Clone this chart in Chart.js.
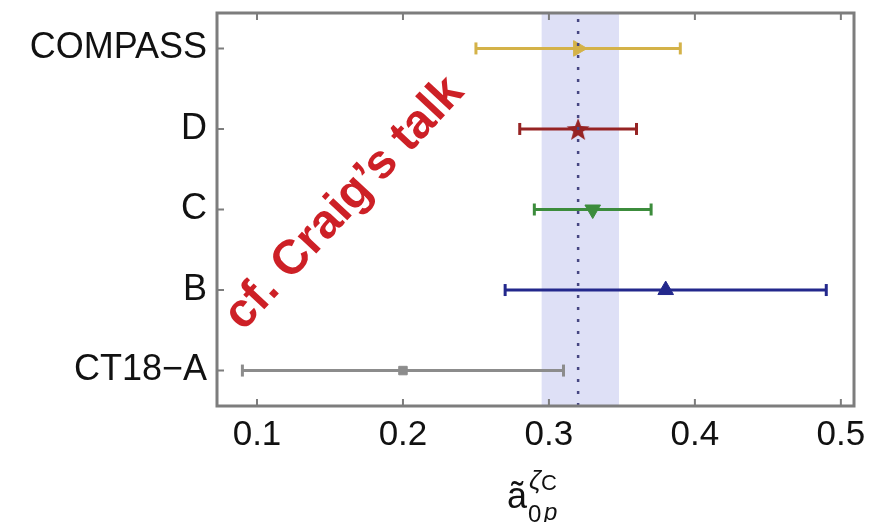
<!DOCTYPE html>
<html>
<head>
<meta charset="utf-8">
<script src="https://cdn.jsdelivr.net/npm/chart.js@4/dist/chart.umd.min.js"></script>
<style>
    html, body { margin: 0; padding: 0; background: #fff; }
    #wrap { width: 880px; height: 522px; }
</style>
</head>
<body>
<div id="wrap"><canvas id="chart" width="880" height="522"></canvas></div>
<script>
// data
var categories = ['CT18\u2212A', 'B', 'C', 'D', 'COMPASS'];
var centers = [0.20, 0.38, 0.33, 0.32, 0.32];
var lows = [0.09, 0.27, 0.29, 0.28, 0.25];
var highs = [0.31, 0.49, 0.37, 0.36, 0.39];
var xTicks = [0.1, 0.2, 0.3, 0.4, 0.5];
var refValue = 0.32;
var bandLow = 0.295;
var bandHigh = 0.348;

var colors = ['rgb(140,140,140)', 'rgb(35,40,140)', 'rgb(60,140,60)', 'rgb(150,35,35)', 'rgb(212,178,72)'];
var FONT = '"Liberation Sans", Arial, Helvetica, sans-serif';

function makeStar(color, r) {
    var c = document.createElement('canvas');
    c.width = c.height = 2 * r + 2;
    var g = c.getContext('2d');
    g.fillStyle = color;
    g.beginPath();
    for (var i = 0; i < 10; i++) {
        var rad = (i % 2 == 0) ? r : r * 0.42;
        var a = -Math.PI / 2 + i * Math.PI / 5;
        var px = r + 1 + rad * Math.cos(a);
        var py = r + 1 + rad * Math.sin(a) + r * 0.1;
        if (i == 0) g.moveTo(px, py); else g.lineTo(px, py);
    }
    g.closePath();
    g.fill();
    return c;
}

// marker per row
var markerStyle = ['rect', 'triangle', 'triangle', makeStar(colors[3], 12), 'triangle'];
var markerRot = [0, 0, 180, 0, 90];
var markerRadius = [6, 9, 9, 12, 9];

var datasets = [];

// dotted reference line
datasets.push({
    type: 'line',
    data: [{ x: refValue, y: 0.56 }, { x: refValue, y: 5.44 }],
    borderColor: 'rgb(70,70,130)',
    borderWidth: 2.5,
    borderDash: [3, 9],
    pointRadius: 0
});

// error bars
for (var i = 0; i < categories.length; i++) {
    datasets.push({
        type: 'line',
        data: [{ x: lows[i], y: i + 1 }, { x: highs[i], y: i + 1 }],
        borderColor: colors[i],
        borderWidth: 3,
        pointStyle: 'line',
        rotation: 90,
        pointRadius: 6,
        pointBorderWidth: 3,
        pointBorderColor: colors[i],
        pointBackgroundColor: colors[i]
    });
}

// central markers
for (var i = 0; i < categories.length; i++) {
    datasets.push({
        type: 'scatter',
        data: [{ x: centers[i], y: i + 1 }],
        pointStyle: markerStyle[i],
        rotation: markerRot[i],
        pointRadius: markerRadius[i],
        borderWidth: 1,
        borderColor: colors[i],
        backgroundColor: colors[i]
    });
}

var framePlugin = {
    id: 'frame',
    beforeDatasetsDraw: function (chart) {
        var ctx = chart.ctx, a = chart.chartArea, xs = chart.scales.x;
        var x0 = xs.getPixelForValue(bandLow), x1 = xs.getPixelForValue(bandHigh);
        ctx.save();
        ctx.fillStyle = 'rgb(222,224,246)';
        ctx.fillRect(x0, a.top, x1 - x0, a.bottom - a.top);
        ctx.restore();
    },
    afterDatasetsDraw: function (chart) {
        var ctx = chart.ctx, a = chart.chartArea, xs = chart.scales.x, ys = chart.scales.y;
        ctx.save();
        ctx.strokeStyle = 'rgb(125,125,125)';
        ctx.lineWidth = 3;
        ctx.strokeRect(a.left, a.top, a.right - a.left, a.bottom - a.top);
        ctx.lineWidth = 2;
        ctx.beginPath();
        for (var v of xTicks) {
            var px = xs.getPixelForValue(v);
            ctx.moveTo(px, a.bottom); ctx.lineTo(px, a.bottom - 7);
            ctx.moveTo(px, a.top); ctx.lineTo(px, a.top + 7);
        }
        for (var i = 0; i < categories.length; i++) {
            var py = ys.getPixelForValue(i + 1);
            ctx.moveTo(a.left, py); ctx.lineTo(a.left + 7, py);
        }
        ctx.stroke();
        ctx.restore();
    },
    afterDraw: function (chart) {
        var ctx = chart.ctx, xs = chart.scales.x;
        var bx = xs.getPixelForValue(0.3) - 42;
        ctx.save();
        ctx.fillStyle = '#111';
        ctx.textBaseline = 'alphabetic';
        ctx.font = '36px ' + FONT;
        ctx.fillText('\u00e3', bx, 508);
        ctx.font = 'italic 26px ' + FONT;
        ctx.fillText('\u03b6', bx + 22, 489);
        ctx.font = '22px ' + FONT;
        ctx.fillText('C', bx + 34, 490);
        ctx.font = '24px ' + FONT;
        ctx.fillText('0', bx + 21, 522);
        ctx.font = 'italic 24px ' + FONT;
        ctx.fillText('p', bx + 37, 520);
        ctx.restore();

        // annotation
        ctx.save();
        ctx.translate(243, 332);
        ctx.rotate(-47 * Math.PI / 180);
        ctx.font = 'bold 48px ' + FONT;
        ctx.fillStyle = 'rgb(205,32,38)';
        ctx.textBaseline = 'alphabetic';
        ctx.fillText('cf. Craig\u2019s talk', 0, 0);
        ctx.restore();
    }
};

function noPad(s) {
    s.paddingTop = 0;
    s.paddingBottom = 0;
    s.paddingLeft = 0;
    s.paddingRight = 0;
}

var chart = new Chart(document.getElementById('chart').getContext('2d'), {
    type: 'scatter',
    data: { datasets: datasets },
    options: {
        responsive: false,
        animation: false,
        devicePixelRatio: 1,
        layout: { padding: { top: 12, right: 26, left: 0, bottom: 0 } },
        plugins: { legend: { display: false }, tooltip: { enabled: false } },
        scales: {
            x: {
                type: 'linear',
                min: 0.0726,
                max: 0.509,
                afterBuildTicks: function (s) { s.ticks = xTicks.map(function (v) { return { value: v }; }); },
                afterFit: function (s) { s.height = 116; noPad(s); },
                grid: { display: false, drawTicks: false },
                border: { display: false },
                ticks: {
                    autoSkip: false,
                    maxRotation: 0,
                    padding: 8,
                    color: '#111',
                    font: { family: FONT, size: 35 },
                    callback: function (v) { return v.toFixed(1); }
                }
            },
            y: {
                type: 'linear',
                min: 0.56,
                max: 5.44,
                afterBuildTicks: function (s) { s.ticks = categories.map(function (c, i) { return { value: i + 1 }; }); },
                afterFit: function (s) { s.width = 217; noPad(s); },
                grid: { display: false, drawTicks: false },
                border: { display: false },
                ticks: {
                    autoSkip: false,
                    padding: 10,
                    color: '#111',
                    font: { family: FONT, size: 36 },
                    callback: function (v) { return categories[Math.round(v) - 1]; }
                }
            }
        }
    },
    plugins: [framePlugin]
});
</script>
</body>
</html>
